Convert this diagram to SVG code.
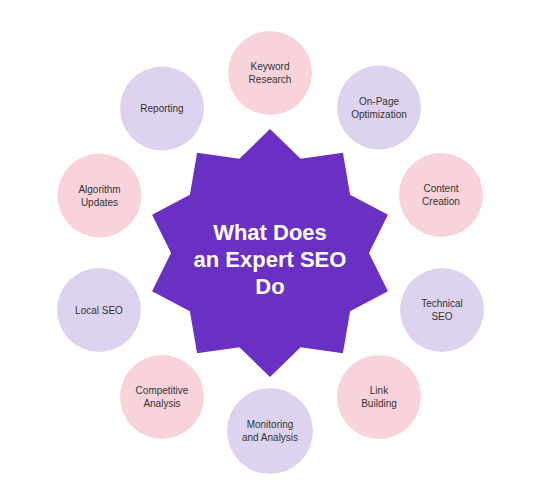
<svg xmlns="http://www.w3.org/2000/svg" width="534" height="497" viewBox="0 0 534 497">
<style>
.pink{fill:#f9d3da}
.lav{fill:#ded3ee}
.lbl{font-family:"Liberation Sans",Arial,sans-serif;font-size:10px;fill:#333;text-anchor:middle}
.title{font-family:"Liberation Sans",Arial,sans-serif;font-size:22px;font-weight:bold;fill:#fff;text-anchor:middle}
</style>
<rect width="534" height="497" fill="#fff"/>
<g id="center">
<polygon fill="#6930c3" points="270,129 300.6,158.8 342.9,152.7 350.1,194.8 387.9,214.7 369,253 387.9,291.3 350.1,311.2 342.9,353.3 300.6,347.2 270,377 239.4,347.2 197.1,353.3 189.9,311.2 152.1,291.3 171,253 152.1,214.7 189.9,194.8 197.1,152.7 239.4,158.8"/>
<text class="title" x="270" y="240">What Does</text>
<text class="title" x="270" y="267">an Expert SEO</text>
<text class="title" x="270" y="294">Do</text>
</g>
<g id="connectors"/>
<g id="keyword"><circle class="pink" cx="270" cy="73" r="42"/><text class="lbl" x="270" y="70">Keyword</text><text class="lbl" x="270" y="83">Research</text></g>
<g id="onpage"><circle class="lav" cx="379" cy="107.5" r="42"/><text class="lbl" x="379" y="104.5">On-Page</text><text class="lbl" x="379" y="117.5">Optimization</text></g>
<g id="content"><circle class="pink" cx="441" cy="195" r="42"/><text class="lbl" x="441" y="192">Content</text><text class="lbl" x="441" y="205">Creation</text></g>
<g id="technical"><circle class="lav" cx="442" cy="310" r="42"/><text class="lbl" x="442" y="307">Technical</text><text class="lbl" x="442" y="320">SEO</text></g>
<g id="link"><circle class="pink" cx="379" cy="397" r="42"/><text class="lbl" x="379" y="394">Link</text><text class="lbl" x="379" y="407">Building</text></g>
<g id="monitoring"><circle class="lav" cx="270" cy="431" r="43"/><text class="lbl" x="270" y="428">Monitoring</text><text class="lbl" x="270" y="441">and Analysis</text></g>
<g id="competitive"><circle class="pink" cx="162" cy="397" r="42"/><text class="lbl" x="162" y="394">Competitive</text><text class="lbl" x="162" y="407">Analysis</text></g>
<g id="local"><circle class="lav" cx="99" cy="310" r="42"/><text class="lbl" x="99" y="313.5">Local SEO</text></g>
<g id="algorithm"><circle class="pink" cx="99.5" cy="195.5" r="42"/><text class="lbl" x="99.5" y="192.5">Algorithm</text><text class="lbl" x="99.5" y="205.5">Updates</text></g>
<g id="reporting"><circle class="lav" cx="162" cy="108.5" r="42"/><text class="lbl" x="162" y="112">Reporting</text></g>
</svg>
